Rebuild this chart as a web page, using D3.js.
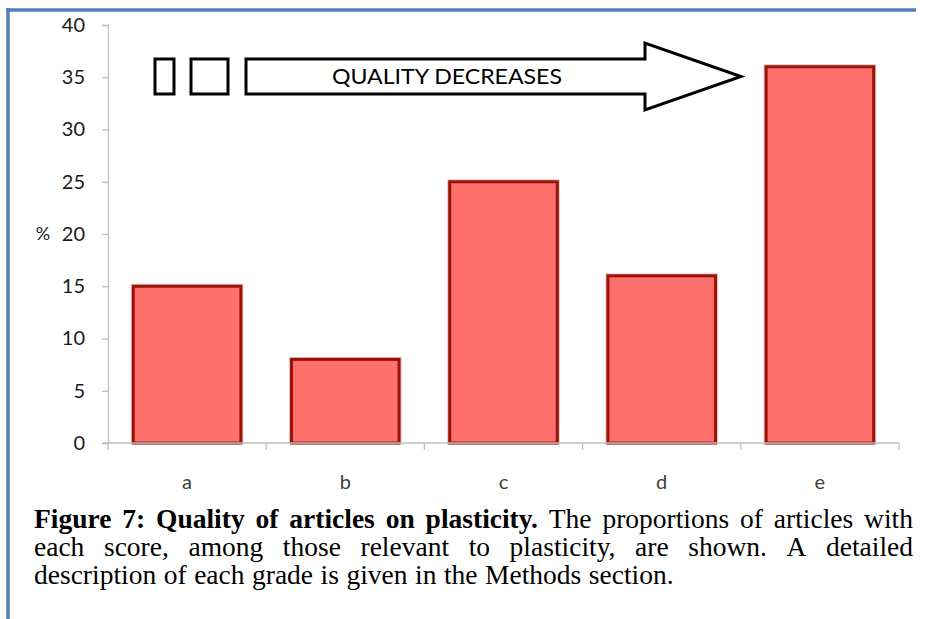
<!DOCTYPE html>
<html>
<head>
<meta charset="utf-8">
<script src="https://cdn.jsdelivr.net/npm/d3@7"></script>
<style>
  html, body { margin: 0; padding: 0; background: #fff; }
  svg { display: block; }
</style>
</head>
<body>
<svg id="fig" width="927" height="619"></svg>
<script>
// Grades and the share of plasticity articles in each (%)
const grades = ["a", "b", "c", "d", "e"];
const shares = [15, 8, 25, 16, 36];
const yTicks = [0, 5, 10, 15, 20, 25, 30, 35, 40];

const captionLines = [
  [{t: "Figure 7: Quality of articles on plasticity.", b: true}, {t: "The proportions of articles with", b: false}],
  [{t: "each score, among those relevant to plasticity, are shown. A detailed", b: false}],
  [{t: "description of each grade is given in the Methods section.", b: false}]
];

const svg = d3.select("#fig");

// Frame around the figure
svg.append("line").attr("x1", 8).attr("x2", 8).attr("y1", 8).attr("y2", 619)
  .attr("stroke", "#4f81bd").attr("stroke-width", 3.5);
svg.append("line").attr("x1", 6.25).attr("x2", 916).attr("y1", 10).attr("y2", 10)
  .attr("stroke", "#4f81bd").attr("stroke-width", 3.5);

const x = d3.scaleBand().domain(grades).range([108, 899]).paddingInner(0.32).paddingOuter(0.16);
const y = d3.scaleLinear().domain([0, 40]).range([443, 25]);

const axisGrey = "#bfbfbf";
const labelFont = "Lato, 'Open Sans', sans-serif";

// Y axis
const yAxis = svg.append("g").attr("transform", "translate(108,0)")
  .call(d3.axisLeft(y).tickValues(yTicks).tickSize(6).tickPadding(17));
yAxis.select(".domain").attr("stroke", axisGrey).attr("stroke-width", 1.3);
yAxis.selectAll(".tick line").attr("stroke", axisGrey).attr("stroke-width", 1.3);
yAxis.selectAll(".tick text").attr("font-family", labelFont).attr("font-size", 20)
  .attr("fill", "#1a1a1a");

svg.append("text").attr("x", 43).attr("y", y(20)).attr("dy", "0.32em")
  .attr("text-anchor", "middle").attr("font-family", labelFont).attr("font-size", 18)
  .attr("fill", "#1a1a1a").text("%");

// Bars
const bars = svg.append("g");
bars.selectAll("rect.shadow").data(grades).join("rect").attr("class", "shadow")
  .attr("x", d => x(d) - 1).attr("width", x.bandwidth() + 2)
  .attr("y", (d, i) => y(shares[i]) - 1).attr("height", (d, i) => y(0) - y(shares[i]) + 1)
  .attr("fill", "none").attr("stroke", "#e8c0bd").attr("stroke-width", 3);
bars.selectAll("rect.bar").data(grades).join("rect").attr("class", "bar")
  .attr("x", d => x(d)).attr("width", x.bandwidth())
  .attr("y", (d, i) => y(shares[i])).attr("height", (d, i) => y(0) - y(shares[i]))
  .attr("fill", "#ff6f6b").attr("stroke", "#9a1208").attr("stroke-width", 3);

// X axis with ticks on the category boundaries
const xAxisG = svg.append("g").attr("transform", "translate(0,443)");
xAxisG.append("line").attr("x1", 103).attr("x2", 899).attr("y1", 0).attr("y2", 0)
  .attr("stroke", axisGrey).attr("stroke-width", 1.3);
const step = x.step();
const boundaries = d3.range(grades.length + 1).map(i => x.range()[0] + i * step);
xAxisG.selectAll("line.tk").data(boundaries).join("line").attr("class", "tk")
  .attr("x1", d => d).attr("x2", d => d).attr("y1", 0).attr("y2", 7)
  .attr("stroke", axisGrey).attr("stroke-width", 1.3);
xAxisG.selectAll("text").data(grades).join("text")
  .attr("x", d => x(d) + x.bandwidth() / 2).attr("y", 46)
  .attr("text-anchor", "middle").attr("font-family", labelFont).attr("font-size", 20)
  .attr("fill", "#404040").text(d => d);

// Quality arrow: two small boxes and a block arrow
const shapes = svg.append("g").attr("fill", "#fff").attr("stroke", "#000").attr("stroke-width", 3);
shapes.append("rect").attr("x", 155).attr("y", 59).attr("width", 19).attr("height", 35);
shapes.append("rect").attr("x", 191).attr("y", 59).attr("width", 37).attr("height", 35);
const arrowPath = d3.path();
arrowPath.moveTo(246, 59);
arrowPath.lineTo(645, 59);
arrowPath.lineTo(645, 43);
arrowPath.lineTo(741, 76.5);
arrowPath.lineTo(645, 110);
arrowPath.lineTo(645, 94);
arrowPath.lineTo(246, 94);
arrowPath.closePath();
shapes.append("path").attr("d", arrowPath.toString()).attr("stroke-linejoin", "miter");
svg.append("text").attr("x", 332).attr("y", 84)
  .attr("font-family", labelFont).attr("font-size", 21).attr("fill", "#000")
  .attr("textLength", 230).attr("lengthAdjust", "spacingAndGlyphs")
  .text("QUALITY DECREASES");

// Caption, justified except for the last line
const cap = svg.append("g").attr("font-family", "'Liberation Serif', 'Times New Roman', serif")
  .attr("font-size", 27.5).attr("fill", "#000");
const left = 34, right = 913, baseY = [528, 556, 584];
captionLines.forEach((segs, li) => {
  const words = [];
  segs.forEach(s => s.t.split(" ").forEach(w => words.push({w, b: s.b})));
  const nodes = words.map(o => cap.append("text").attr("y", baseY[li])
    .attr("font-weight", o.b ? "bold" : "normal").text(o.w));
  const widths = nodes.map(n => n.node().getComputedTextLength());
  const total = d3.sum(widths);
  const justify = li < captionLines.length - 1;
  const gap = justify ? (right - left - total) / (words.length - 1) : 7.5;
  let cx = left;
  nodes.forEach((n, i) => { n.attr("x", cx); cx += widths[i] + gap; });
});
</script>
</body>
</html>
